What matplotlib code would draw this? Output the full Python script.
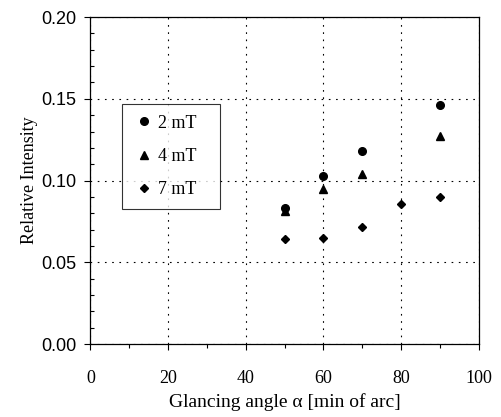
import numpy as np
import matplotlib
matplotlib.use("Agg")
import matplotlib.pyplot as plt
from matplotlib.ticker import MultipleLocator

# Datos
angle_2mT = [50, 60, 70, 90]
int_2mT = [0.083, 0.103, 0.118, 0.146]
angle_4mT = [50, 60, 70, 90]
int_4mT = [0.0815, 0.095, 0.104, 0.127]
angle_7mT = [50, 60, 70, 80, 90]
int_7mT = [0.064, 0.065, 0.0716, 0.0856, 0.0897]
labels = ["2 mT", "4 mT", "7 mT"]

serif = "Liberation Serif"
sans = "Liberation Sans"

fig = plt.figure(figsize=(5.02, 4.17), dpi=100)
ax = fig.add_axes([0.180, 0.175, 0.774, 0.784])

ax.plot(angle_2mT, int_2mT, "o", color="black", markersize=5.5, label=labels[0])
ax.plot(angle_4mT, int_4mT, "^", color="black", markersize=5.5, label=labels[1])
ax.plot(angle_7mT, int_7mT, "D", color="black", markersize=4.2, label=labels[2])

ax.set_xlim(0, 100)
ax.set_ylim(0, 0.20)
ax.xaxis.set_major_locator(MultipleLocator(20))
ax.xaxis.set_minor_locator(MultipleLocator(10))
ax.yaxis.set_major_locator(MultipleLocator(0.05))
ax.yaxis.set_minor_locator(MultipleLocator(0.01))
ax.set_yticks(np.arange(0, 0.201, 0.05))
ax.set_yticklabels(["%.2f" % v for v in np.arange(0, 0.201, 0.05)],
                   fontfamily=sans, fontsize=13)
for t in ax.get_xticklabels():
    t.set_fontfamily(serif)
    t.set_fontsize(13)

ax.tick_params(axis="both", which="major", direction="out", length=4, width=0.8)
ax.tick_params(axis="x", which="major", pad=15)
ax.tick_params(axis="y", which="major", pad=6)
ax.tick_params(axis="x", which="minor", direction="out", length=3, width=0.8)
ax.tick_params(axis="y", which="minor", direction="in", length=3, width=0.8)

ax.grid(True, which="major", linestyle=(0, (1.5, 5)), color="black", linewidth=0.8)

for s in ax.spines.values():
    s.set_linewidth(0.9)

ax.set_xlabel("Glancing angle α [min of arc]", fontfamily=serif, fontsize=14, labelpad=4)
ax.set_ylabel("Relative Intensity", fontfamily=serif, fontsize=13, labelpad=2)

leg = ax.legend(loc="lower left", bbox_to_anchor=(0.082, 0.413, 0.252, 0.312),
                mode="expand", borderaxespad=0, frameon=True, fancybox=False,
                handlelength=1.2, handletextpad=0.2, labelspacing=0.9,
                borderpad=0.6, prop={"family": serif, "size": 13})
leg.get_frame().set_edgecolor("black")
leg.get_frame().set_linewidth(0.8)

fig.savefig("out.png", dpi=100)
